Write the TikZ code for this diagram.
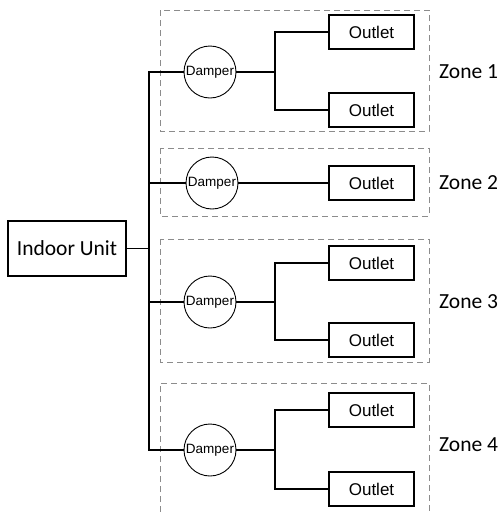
\documentclass[tikz,border=0pt]{standalone}
\usepackage{fontspec}
\setmainfont{Carlito}
\newfontfamily\arialfont{Liberation Sans}
\usetikzlibrary{positioning, calc}
\definecolor{zonegrey}{HTML}{8C8C8C}
\tikzset{
  unitbox/.style={rectangle, draw=black, line width=1.6pt, minimum width=118pt,
                  minimum height=55pt, inner sep=0pt, font=\fontsize{21.5}{24}\selectfont},
  damperbox/.style={circle, draw=black, line width=0.9pt, minimum size=52pt,
                    inner sep=0pt, font=\arialfont\fontsize{13.5}{15}\selectfont},
  outletbox/.style={rectangle, draw=black, line width=1.4pt, minimum width=85pt,
                    minimum height=34pt, inner sep=0pt, font=\arialfont\fontsize{17}{19}\selectfont},
  zonebox/.style={draw=zonegrey, line width=0.9pt, dash pattern=on 6pt off 4pt},
  zonelabel/.style={anchor=west, inner sep=0pt, font=\fontsize{21.5}{24}\selectfont},
  pipe/.style={draw=black, line width=1.9pt},
}
\begin{document}
\begin{tikzpicture}[x=1pt, y=-1pt]
  \useasboundingbox (0,0) rectangle (501,512);

  % zone outlines (zone 4 runs off the bottom)
  \draw[zonebox] (160,10) rectangle (429,131);
  \draw[zonebox] (160,148) rectangle (429,216);
  \draw[zonebox] (160,239) rectangle (429,362);
  \draw[zonebox] (160,512) |- (429,383) -- (429,512);

  % indoor unit and dampers
  \node[unitbox] (unit) at (67,248.5) {Indoor Unit};
  \node[damperbox] (dmp1) at (210,72)  {Damper};
  \node[damperbox] (dmp2) at (212,183) {Damper};
  \node[damperbox] (dmp3) at (210,302) {Damper};
  \node[damperbox] (dmp4) at (210,450) {Damper};

  % outlets
  \node[outletbox] (out1a) at (371.5,32)  {Outlet};
  \node[outletbox] (out1b) at (371.5,110) {Outlet};
  \node[outletbox] (out2)  at (371.5,183) {Outlet};
  \node[outletbox] (out3a) at (371.5,263) {Outlet};
  \node[outletbox] (out3b) at (371.5,340) {Outlet};
  \node[outletbox] (out4a) at (371.5,410) {Outlet};
  \node[outletbox] (out4b) at (371.5,489) {Outlet};

  % zone names
  \node[zonelabel] (zn1) at (439,72)  {Zone 1};
  \node[zonelabel] (zn2) at (439,183) {Zone 2};
  \node[zonelabel] (zn3) at (439,302) {Zone 3};
  \node[zonelabel] (zn4) at (439,445) {Zone 4};

  % trunk from the indoor unit to every damper
  \coordinate (trunk) at (149,0);
  \coordinate (split) at (275,0);
  \foreach \z in {1,...,4}{
    \draw[pipe] (unit.east) -- (unit.east -| trunk) |- (dmp\z.west);
  }

  % dampers to outlets
  \draw[pipe] (dmp2.east) -- (out2.west);
  \foreach \z in {1,3,4}{
    \draw[pipe] (dmp\z.east) -- (dmp\z.east -| split) |- (out\z a.west);
    \draw[pipe] (dmp\z.east -| split) |- (out\z b.west);
  }
\end{tikzpicture}
\end{document}
